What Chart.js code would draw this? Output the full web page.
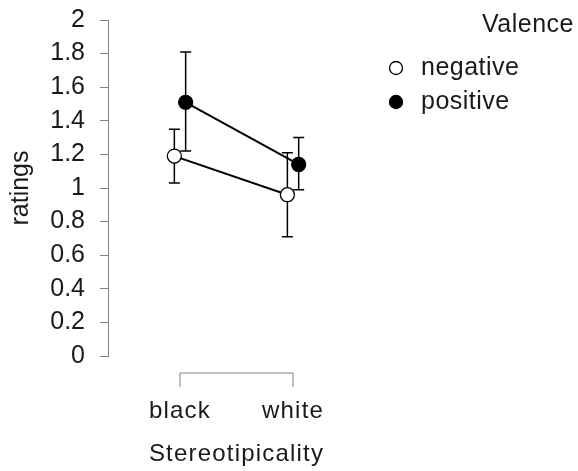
<!DOCTYPE html>
<html><head><meta charset="utf-8">
<script src="https://cdn.jsdelivr.net/npm/chart.js@4.4.0/dist/chart.umd.min.js"></script>
<style>html,body{margin:0;padding:0;background:#fff}#wrap{width:578px;height:471px}</style>
</head><body><div id="wrap"><canvas id="c" width="578" height="471"></canvas></div>
<script>
// ---- data ----
const categories = ['black', 'white'];
const seriesNames = ['negative', 'positive'];
const negativeMean = [1.19, 0.96];
const negativeLow  = [1.03, 0.71];
const negativeHigh = [1.35, 1.21];
const positiveMean = [1.51, 1.14];
const positiveLow  = [1.22, 0.99];
const positiveHigh = [1.81, 1.30];
const yTicks = [0, 0.2, 0.4, 0.6, 0.8, 1, 1.2, 1.4, 1.6, 1.8, 2];
const xTitle = 'Stereotipicality';
const yTitle = 'ratings';
const legendTitle = 'Valence';

// ---- styling ----
const FONT = '"Liberation Sans", Arial, Helvetica, sans-serif';
const TEXT = '#1a1a1a';
const AXIS = '#808080';
const DODGE = 0.05;

Chart.defaults.font.family = FONT;
Chart.defaults.color = TEXT;

const makeSet = (label, mean, lo, hi, fill, shift) => ({
  label,
  data: mean.map((v, i) => ({ x: i + shift, y: v })),
  lo, hi,
  borderColor: '#000',
  borderWidth: 2,
  backgroundColor: fill,
  pointBackgroundColor: fill,
  pointBorderColor: '#000',
  pointBorderWidth: 1.3,
  pointRadius: 7,
  pointHoverRadius: 7,
  clip: false,
  tension: 0
});

const datasets = [
  makeSet(seriesNames[0], negativeMean, negativeLow, negativeHigh, '#ffffff', -DODGE),
  makeSet(seriesNames[1], positiveMean, positiveLow, positiveHigh, '#000000', DODGE)
];

const extras = {
  id: 'extras',
  beforeDatasetsDraw(chart) {
    const ctx = chart.ctx, xs = chart.scales.x, ys = chart.scales.y;
    ctx.save();
    ctx.strokeStyle = '#000';
    ctx.lineWidth = 1.5;
    chart.data.datasets.forEach(ds => {
      ds.data.forEach((p, i) => {
        const x = xs.getPixelForValue(p.x);
        const y1 = ys.getPixelForValue(ds.lo[i]);
        const y2 = ys.getPixelForValue(ds.hi[i]);
        ctx.beginPath();
        ctx.moveTo(x, y1); ctx.lineTo(x, y2);
        ctx.moveTo(x - 5.5, y1); ctx.lineTo(x + 5.5, y1);
        ctx.moveTo(x - 5.5, y2); ctx.lineTo(x + 5.5, y2);
        ctx.stroke();
      });
    });
    ctx.restore();
  },
  afterDraw(chart) {
    const ctx = chart.ctx, xs = chart.scales.x, ys = chart.scales.y;
    ctx.save();
    // x axis bracket
    const xa = xs.getPixelForValue(0), xb = xs.getPixelForValue(categories.length - 1);
    const yAxis = ys.bottom + 17;
    ctx.strokeStyle = AXIS; ctx.lineWidth = 1;
    ctx.beginPath();
    ctx.moveTo(xa, yAxis + 14); ctx.lineTo(xa, yAxis); ctx.lineTo(xb, yAxis); ctx.lineTo(xb, yAxis + 14);
    ctx.stroke();
    ctx.fillStyle = TEXT;
    ctx.font = '24px ' + FONT;
    ctx.textAlign = 'center'; ctx.textBaseline = 'middle';
    try { ctx.letterSpacing = '1.2px'; } catch (e) {}
    categories.forEach((c, i) => ctx.fillText(c, xs.getPixelForValue(i), yAxis + 38));
    ctx.fillText(xTitle, (xa + xb) / 2, yAxis + 81);
    // legend
    ctx.font = '25px ' + FONT;
    try { ctx.letterSpacing = '0.5px'; } catch (e) {}
    ctx.textAlign = 'right';
    ctx.fillText(legendTitle, 574, 25);
    ctx.textAlign = 'left';
    chart.data.datasets.forEach((ds, i) => {
      const cy = 68 + i * 34;
      ctx.beginPath();
      ctx.arc(396, cy, 6.5, 0, Math.PI * 2);
      ctx.fillStyle = ds.pointBackgroundColor;
      ctx.fill();
      ctx.strokeStyle = '#000'; ctx.lineWidth = 1.3;
      ctx.stroke();
      ctx.fillStyle = TEXT;
      ctx.fillText(ds.label, 421, cy);
    });
    ctx.restore();
  }
};

new Chart(document.getElementById('c'), {
  type: 'line',
  data: { datasets },
  options: {
    responsive: false,
    animation: false,
    devicePixelRatio: 1,
    layout: { padding: { left: 0, top: 20, right: 228, bottom: 115 } },
    plugins: { legend: { display: false }, tooltip: { enabled: false } },
    scales: {
      x: { type: 'linear', min: -0.637, max: 1.504, display: false },
      y: {
        type: 'linear', min: 0, max: 2,
        afterBuildTicks: s => { s.ticks = yTicks.map(v => ({ value: v })); },
        afterFit: s => { s.width = 108; s.paddingTop = 0; s.paddingBottom = 0; },
        ticks: {
          padding: 15,
          font: { size: 25 },
          color: TEXT,
          callback: v => String(parseFloat(Number(v).toFixed(1)))
        },
        grid: { display: true, drawOnChartArea: false, drawTicks: true, tickLength: 8, color: AXIS, tickColor: AXIS },
        border: { display: true, color: AXIS, width: 1 },
        title: { display: true, text: yTitle, font: { size: 25 }, color: TEXT, padding: { top: 6, bottom: 4 } }
      }
    }
  },
  plugins: [extras]
});
</script>
</body></html>
